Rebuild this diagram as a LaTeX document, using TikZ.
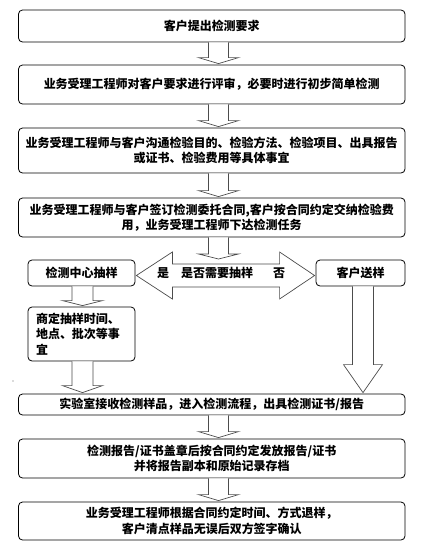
\documentclass[tikz,border=0pt]{standalone}
\usepackage{fontspec}
\newfontfamily\cjk{Noto Sans CJK SC}
\usetikzlibrary{calc}
\tikzset{
  box/.style={draw=black, line width=0.8pt, rounded corners=4pt, fill=white,
    font=\cjk\bfseries\fontsize{12}{15.5}\selectfont, align=center, inner sep=2pt},
  mainbox/.style={box, minimum width=386.5pt},
  blk/.style={draw=black!70, line width=0.7pt, fill=white, line join=miter},
  lbl/.style={font=\cjk\bfseries\fontsize{12}{15}\selectfont, inner sep=0pt}
}
% #1 from node, #2 end point, #3 x offset, #4 shaft half width, #5 head half width, #6 head length
\newcommand\downblock[6]{%
  \draw[blk] let \p1=(#1.south), \p2=(#2) in
    (\x1+#3-#4,\y1) -- (\x1+#3-#4,\y2+#6+1pt) -- (\x1+#3-#5,\y2+#6+1pt)
    -- (\x1+#3,\y2+1pt) -- (\x1+#3+#5,\y2+#6+1pt) -- (\x1+#3+#4,\y2+#6+1pt)
    -- (\x1+#3+#4,\y1);
}
\begin{document}
\begin{tikzpicture}[x=1pt,y=-1pt]
\useasboundingbox[fill=white] (0,0) rectangle (427,550);

\node[mainbox, minimum height=32pt] (b1) at (211.75,26) {客户提出检测要求};
\node[mainbox, minimum height=39pt] (b2) at (211.75,84.5) {业务受理工程师对客户要求进行评审，必要时进行初步简单检测};
\node[mainbox, minimum height=45pt] (b3) at (211.75,150.5) {业务受理工程师与客户沟通检验目的、检验方法、检验项目、出具报告\\或证书、检验费用等具体事宜};
\node[mainbox, minimum height=39pt] (b4) at (211.75,217.5) {业务受理工程师与客户签订检测委托合同,客户按合同约定交纳检验费\\用，业务受理工程师下达检测任务};

\node[box, minimum width=107pt, minimum height=26pt] (A) at (81.5,273) {检测中心抽样};
\node[box, minimum width=89pt, minimum height=26pt] (C) at (360.5,273) {客户送样};
\node[box, minimum width=107pt, minimum height=54pt, text width=91pt, inner xsep=8pt, align=left] (B) at (81.5,334) {商定抽样时间、\\地点、批次等事\\宜};

\node[mainbox, minimum height=21pt] (b5) at (211.75,404.5) {实验室接收检测样品，进入检测流程，出具检测证书/报告};
\node[mainbox, minimum height=39pt] (b6) at (211.75,458.5) {检测报告/证书盖章后按合同约定发放报告/证书\\并将报告副本和原始记录存档};
\node[mainbox, minimum height=38pt] (b7) at (211.75,521) {业务受理工程师根据合同约定时间、方式退样，\\客户清点样品无误后双方签字确认};

% double arrow between A and C
\draw[blk] let \p1=(A.east), \p2=(C.west) in
  (\x1+1pt,\y1-2.5pt) -- (\x1+37pt,\y1+21pt) -- (\x1+37pt,\y1+9pt)
  -- (\x2-36pt,\y2+9pt) -- (\x2-36pt,\y2+21pt) -- (\x2-1pt,\y2-2.5pt)
  -- (\x2-36pt,\y2-26pt) -- (\x2-36pt,\y2-14pt) -- (\x1+37pt,\y1-14pt)
  -- (\x1+37pt,\y1-26pt) -- cycle;
\node[lbl] (yes) at (163,273) {是};
\node[lbl] (q1) at (217,273) {是否需要抽样};
\node[lbl] (no) at (279,273) {否};

\coordinate (dtip) at (218.5,260);

\downblock{b1}{b2.north}{6.75pt}{10pt}{20pt}{6pt}
\downblock{b2}{b3.north}{6.75pt}{10pt}{20pt}{6pt}
\downblock{b3}{b4.north}{6.75pt}{10pt}{20pt}{6pt}
\downblock{b4}{dtip}{6.75pt}{10pt}{20pt}{5pt}
\downblock{A}{B.north}{1pt}{10.5pt}{20pt}{5pt}
\downblock{B}{b5.north}{1pt}{10.5pt}{20pt}{7pt}
\downblock{C}{b5.north}{2.5pt}{10.5pt}{19.5pt}{28pt}
\downblock{b5}{b6.north}{6.75pt}{10pt}{20pt}{6pt}
\downblock{b6}{b7.north}{6.75pt}{10pt}{20pt}{6pt}

\fill[black!60] (13,381) circle (0.7pt);
\end{tikzpicture}
\end{document}
